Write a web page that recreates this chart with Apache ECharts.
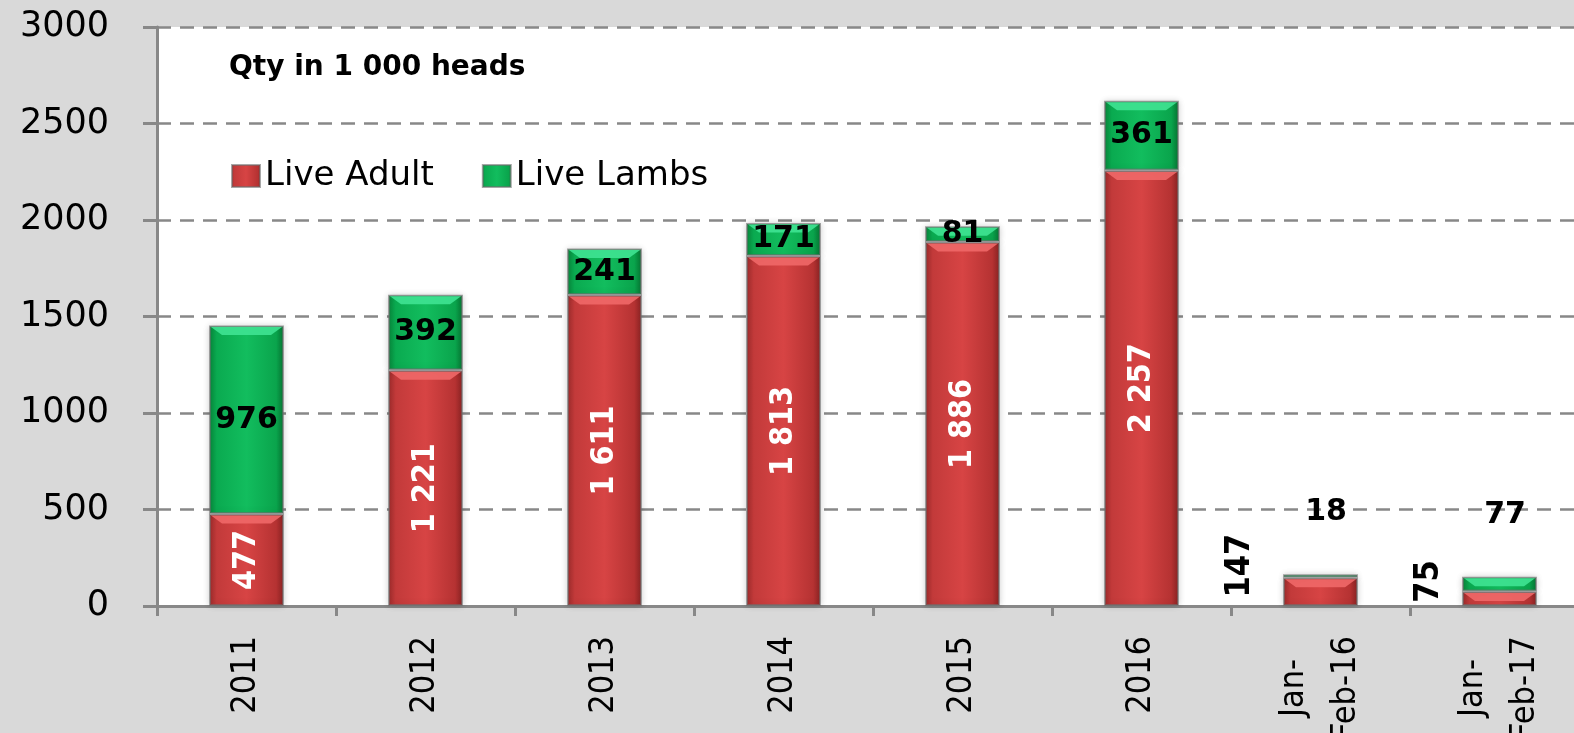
<!DOCTYPE html>
<html>
<head>
<meta charset="utf-8">
<script src="https://cdn.jsdelivr.net/npm/echarts@6/dist/echarts.min.js"></script>
<style>
html,body{margin:0;padding:0;background:#d9d9d9;}
#chart{width:1574px;height:733px;}
</style>
</head>
<body>
<div id="chart"></div>
<script>
const categories = ['2011', '2012', '2013', '2014', '2015', '2016', 'Jan-\nFeb-16', 'Jan-\nFeb-17'];
const liveAdult = [477, 1221, 1611, 1813, 1886, 2257, 147, 75];
const liveLambs = [976, 392, 241, 171, 81, 361, 18, 77];
const yTicks = { min: 0, max: 3000, interval: 500 };
const titleText = 'Qty in 1 000 heads';

const narrow = "'DejaVu Sans Condensed', 'Liberation Sans', sans-serif";
const wide = "'DejaVu Sans', Verdana, sans-serif";
const BAR_W = 75;

function fmt(v) { return String(v).replace(/\B(?=(\d{3})+(?!\d))/g, ' '); }

// manual label placement for the two small bars (relative to bar rect top-left)
const adultLabelPos = { 6: [-43, -12], 7: [-33, -10] };
const lambLabelPos = { 6: [43, -62], 7: [43, -61] };

const redGrad = new echarts.graphic.LinearGradient(0, 0, 1, 0, [
  { offset: 0, color: '#9c2a2a' }, { offset: 0.1, color: '#c23a3a' },
  { offset: 0.5, color: '#d74444' }, { offset: 0.9, color: '#b53232' }, { offset: 1, color: '#8a2222' }
]);
const greenGrad = new echarts.graphic.LinearGradient(0, 0, 1, 0, [
  { offset: 0, color: '#07853a' }, { offset: 0.1, color: '#0aaa50' },
  { offset: 0.5, color: '#12bd5e' }, { offset: 0.9, color: '#0aa44c' }, { offset: 1, color: '#067432' }
]);

const cv = document.createElement('canvas').getContext('2d');
cv.font = '34px ' + narrow;
let maxW = 0;
categories.forEach(c => c.split('\n').forEach(l => { maxW = Math.max(maxW, cv.measureText(l).width); }));
function catFormatter(v) {
  const lines = v.split('\n');
  if (lines.length === 1) return v;
  return lines.map(l => '{c|' + l + '}').join('\n');
}

const adultLabelData = liveAdult.map((v, i) => adultLabelPos[i] ? {
  value: v,
  label: { position: adultLabelPos[i], color: '#000', fontWeight: 'bold', fontSize: 34, align: 'center', verticalAlign: 'middle' }
} : v);
const lambLabelData = liveLambs.map((v, i) => lambLabelPos[i] ? {
  value: v,
  label: { position: lambLabelPos[i], align: 'center', verticalAlign: 'middle' }
} : v);

// bevel highlight segments: [categoryIndex, base, top, kind]
const bevelData = [];
liveAdult.forEach((v, i) => {
  bevelData.push([i, 0, v, 0]);
  bevelData.push([i, v, v + liveLambs[i], 1]);
});

function renderBevel(params, api) {
  const i = api.value(0), base = api.value(1), top = api.value(2), kind = api.value(3);
  const pTop = api.coord([i, top]);
  const pBase = api.coord([i, base]);
  const segH = pBase[1] - pTop[1];
  const h = Math.min(8, segH - 3);
  if (!(h > 1)) return null;
  const cx = pTop[0];
  const hw = BAR_W / 2 - 2;
  const inset = 11;
  const y0 = pTop[1] + 1.5;
  return {
    type: 'polygon',
    silent: true,
    shape: { points: [[cx - hw, y0], [cx + hw, y0], [cx + hw - inset, y0 + h], [cx - hw + inset, y0 + h]] },
    style: { fill: kind === 0 ? '#f06868' : '#3fe392', opacity: 0.9 }
  };
}

const barStyle = (grad) => ({ color: grad, borderColor: 'rgba(110,110,110,0.6)', borderWidth: 2, shadowBlur: 6, shadowColor: 'rgba(0,0,0,0.2)' });
const clearStyle = { color: 'rgba(0,0,0,0)', borderWidth: 0 };

const chart = echarts.init(document.getElementById('chart'), null, { renderer: 'canvas' });
chart.setOption({
  backgroundColor: '#d9d9d9',
  animation: false,
  tooltip: { show: false },
  title: {
    text: titleText, left: 224, top: 49,
    textStyle: { fontFamily: wide, fontWeight: 'bold', fontSize: 28, color: '#000' }
  },
  legend: {
    left: 226, top: 154,
    itemWidth: 28, itemHeight: 22, itemGap: 48,
    icon: 'rect',
    textStyle: { fontFamily: wide, fontSize: 34, color: '#000' },
    data: ['Live Adult', 'Live Lambs']
  },
  grid: {
    left: 157, top: 27, bottom: 127, right: -15,
    outerBoundsMode: 'none', containLabel: false,
    show: true, backgroundColor: '#ffffff', borderWidth: 0
  },
  xAxis: {
    type: 'category', data: categories,
    axisLine: { lineStyle: { color: '#888', width: 3 } },
    axisTick: { show: true, length: 10, lineStyle: { color: '#888', width: 3 } },
    axisLabel: {
      rotate: 90, margin: 30, interval: 0, hideOverlap: false,
      fontFamily: narrow, fontSize: 34, color: '#000', lineHeight: 52,
      formatter: catFormatter,
      rich: { c: { width: maxW, align: 'center', fontFamily: narrow, fontSize: 34, color: '#000', lineHeight: 52 } }
    }
  },
  yAxis: {
    type: 'value', min: yTicks.min, max: yTicks.max, interval: yTicks.interval,
    axisLine: { show: true, lineStyle: { color: '#888', width: 3 } },
    axisTick: { show: true, length: 14, lineStyle: { color: '#888', width: 3 } },
    axisLabel: { fontFamily: wide, fontSize: 35, color: '#000', margin: 48, formatter: v => String(v) },
    splitLine: { lineStyle: { color: '#888', width: 2.5, type: [14, 9] } }
  },
  series: [
    {
      name: 'Live Adult', type: 'bar', stack: 'total', barWidth: BAR_W, z: 2,
      data: liveAdult,
      itemStyle: barStyle(redGrad)
    },
    {
      name: 'Live Lambs', type: 'bar', stack: 'total', barWidth: BAR_W, z: 2,
      data: liveLambs,
      itemStyle: barStyle(greenGrad)
    },
    {
      name: 'bevel', type: 'custom', silent: true, z: 3,
      coordinateSystem: 'cartesian2d',
      renderItem: renderBevel,
      data: bevelData,
      encode: { x: 0, y: [1, 2] },
      clip: false
    },
    {
      name: 'Live Adult labels', type: 'bar', stack: 'labels', barWidth: BAR_W, z: 4, silent: true,
      data: adultLabelData,
      itemStyle: clearStyle,
      label: {
        show: true, position: 'inside', rotate: 90,
        fontFamily: narrow, fontWeight: 'bold', fontSize: 32, color: '#fff',
        formatter: p => fmt(p.value)
      }
    },
    {
      name: 'Live Lambs labels', type: 'bar', stack: 'labels', barWidth: BAR_W, barGap: '-100%', z: 4, silent: true,
      data: lambLabelData,
      itemStyle: clearStyle,
      label: {
        show: true, position: 'inside',
        fontFamily: wide, fontWeight: 'bold', fontSize: 30, color: '#000',
        formatter: p => fmt(p.value)
      }
    }
  ]
});
</script>
</body>
</html>
